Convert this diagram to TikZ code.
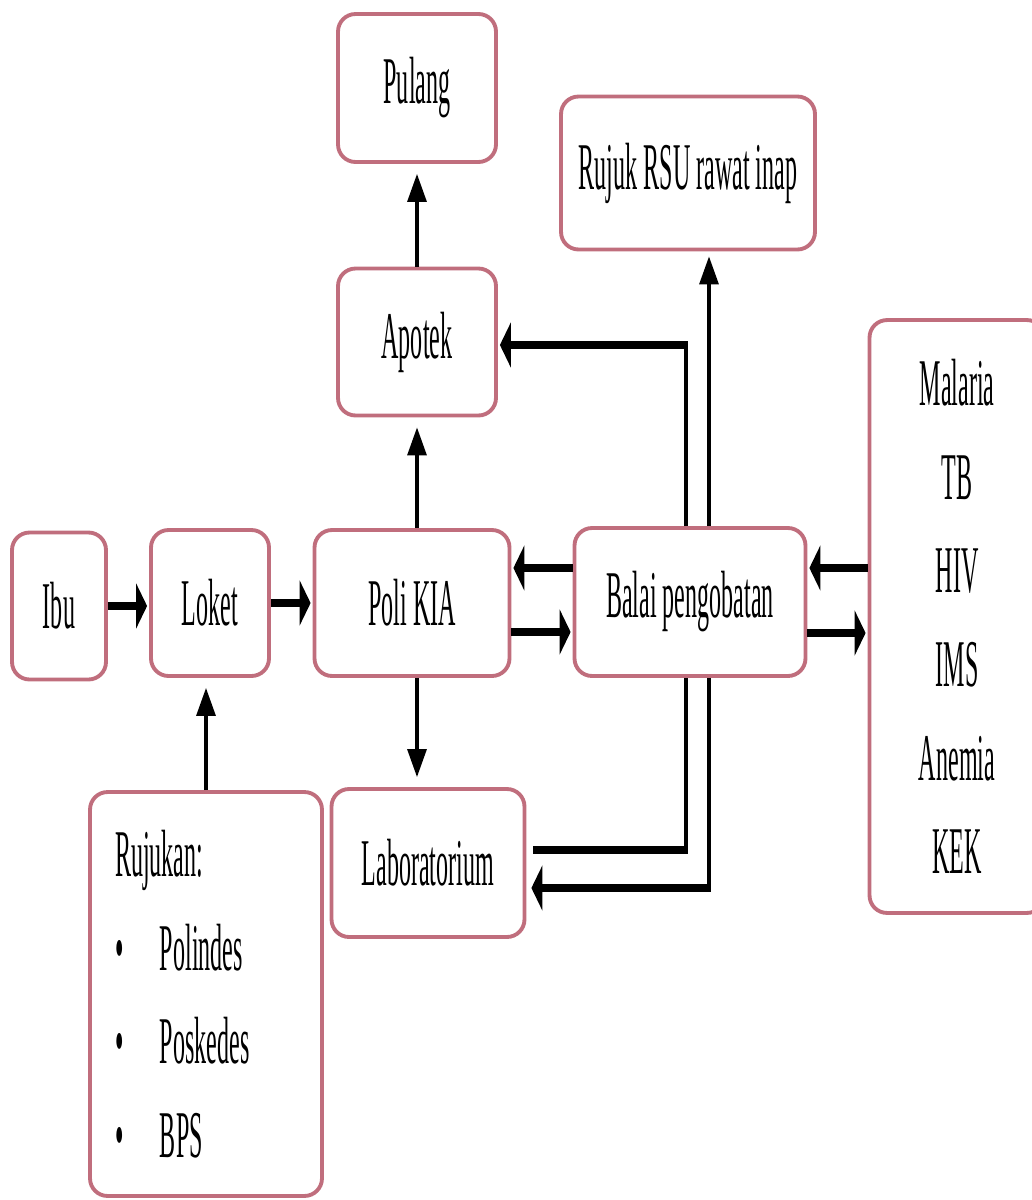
\documentclass[tikz,border=0pt]{standalone}
\usepackage{fontspec}
\setmainfont{Liberation Serif}[FakeStretch=0.36]
\usetikzlibrary{arrows.meta,calc}
\definecolor{boxred}{RGB}{192,110,125}
\tikzset{
  box/.style={draw=boxred, line width=2.2pt, rounded corners=0.35cm, fill=white,
    inner sep=0pt, align=center, font=\fontsize{38}{53.3}\selectfont},
  harrow/.style={line width=4pt, -{Triangle[length=0.22cm,width=0.9cm]}, shorten >=0.04cm},
  hline/.style={line width=4pt},
  varrow/.style={line width=1.8pt, -{Triangle[length=0.56cm,width=0.38cm]}, shorten >=0.2cm},
  vline/.style={line width=1.8pt},
}
\begin{document}
\begin{tikzpicture}[x=0.02cm,y=-0.02cm]
\useasboundingbox (0,0) rectangle (1031,1200);
\node[box, minimum width=3.16cm, minimum height=2.96cm] (pulang) at (417,88) {Pulang};
\node[box, minimum width=5.08cm, minimum height=3.06cm] (rsu) at (688,173) {Rujuk RSU rawat inap};
\node[box, minimum width=3.16cm, minimum height=2.94cm] (apotek) at (417,342) {Apotek};
\node[box, minimum width=1.88cm, minimum height=2.94cm] (ibu) at (59,606) {Ibu};
\node[box, minimum width=2.36cm, minimum height=2.92cm] (loket) at (210,603) {Loket};
\node[box, minimum width=3.9cm, minimum height=2.92cm] (poli) at (412,603) {Poli KIA};
\node[box, minimum width=4.62cm, minimum height=2.96cm] (balai) at (690,602) {Balai pengobatan};
\node[box, minimum width=3.86cm, minimum height=2.96cm] (lab) at (428,863) {Laboratorium};
\node[box, minimum width=3.5cm, minimum height=11.86cm] (penyakit) at (957,616.5)
  {Malaria\\TB\\HIV\\IMS\\Anemia\\KEK};
\node[box, minimum width=4.64cm, minimum height=8.08cm, text width=3.64cm,
  inner xsep=0.5cm, align=left] (rujukan) at (206,994)
  {Rujukan:\\
   \makebox[0.9cm][l]{\textbullet}Polindes\\
   \makebox[0.9cm][l]{\textbullet}Poskedes\\
   \makebox[0.9cm][l]{\textbullet}BPS};

\draw[harrow] (ibu.east) -- (loket.west |- ibu.east);
\draw[harrow] (loket.east) -- (poli.west |- loket.east);
\draw[harrow] ($(poli.east)+(0,29)$) -- ($(balai.west)+(0,30)$);
\draw[harrow] ($(balai.west)+(0,-34)$) -- ($(poli.east)+(0,-35)$);
\draw[harrow] ($(balai.east)+(0,31)$) -- ($(penyakit.west |- balai.east)+(0,31)$);
\draw[harrow] ($(penyakit.west |- balai.east)+(0,-34)$) -- ($(balai.east)+(0,-34)$);

\draw[varrow] (poli.north -| apotek) -- (apotek.south);
\draw[varrow] (apotek.north) -- (pulang.south);
\draw[varrow] (poli.south -| apotek) -- (lab.north -| apotek);
\draw[varrow] (rujukan.north) -- (loket.south -| rujukan.north);

\coordinate (ka) at (686,345);
\draw[vline] (balai.north -| ka) -- ([yshift=2pt]ka);
\draw[harrow] ([xshift=0.9pt]ka) -- (apotek.east |- ka);
\coordinate (kr) at (709,0);
\draw[varrow, shorten >=0.1cm] (balai.north -| kr) -- (rsu.south -| kr);

\coordinate (kl) at (686,850);
\draw[vline] (balai.south -| kl) -- ([yshift=-2pt]kl);
\draw[hline] ([xshift=0.9pt]kl) -- ([xshift=0.14cm]lab.east |- kl);
\coordinate (km) at (709,888);
\draw[vline] (balai.south -| km) -- ([yshift=-2pt]km);
\draw[harrow] ([xshift=0.9pt]km) -- ([xshift=0.06cm]lab.east |- km);
\end{tikzpicture}
\end{document}
